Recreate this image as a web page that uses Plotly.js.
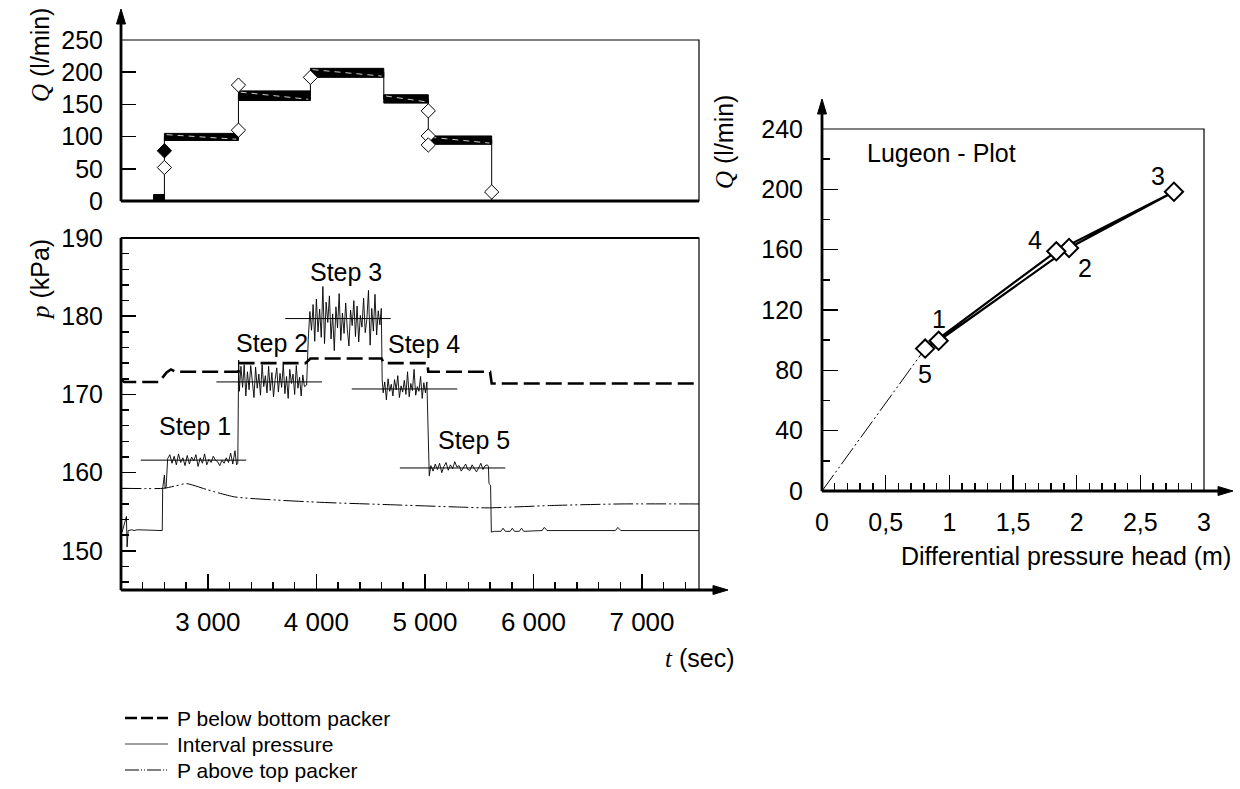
<!DOCTYPE html>
<html><head><meta charset="utf-8">
<script src="https://cdn.plot.ly/plotly-3.0.1.min.js"></script>
<style>html,body{margin:0;padding:0;background:#fff}#chart{width:1240px;height:789px}</style>
</head><body><div id="chart"></div>
<script>
// ================= DATA =================
// Top panel: flow rate Q (l/min) steps
const qStepStart = [2500, 2600, 3282, 3945, 4621, 5031];
const qStepEnd   = [2600, 3282, 3945, 4621, 5031, 5615];
const qLow       = [0, 94, 156, 192, 152, 88];
const qHigh      = [10, 105, 171, 206, 165, 101];
const qRiseT = [2600, 2600, null, 3282, 3282, null, 3945, 3945, null, 4621, 4621, null, 5031, 5031, null, 5615, 5615];
const qRiseQ = [0, 100, null, 100, 165, null, 165, 200, null, 200, 158, null, 158, 95, null, 95, 0];
const qOpenT = [2600, 3282, 3282, 3945, 5031, 5031, 5031, 5615];
const qOpenQ = [52, 110, 180, 192, 140, 101, 87, 14];
const qFillT = [2600];
const qFillQ = [78];

// Bottom panel: pressures (kPa) vs time (sec)
const tBelow = [2200, 2230, 2550, 2620, 2660, 2700, 3282, 3292, 3900, 3945, 4600, 4621, 5023, 5031, 5600, 5615, 7525];
const pBelow = [171.9, 171.6, 171.6, 172.8, 173.2, 172.9, 172.9, 174.0, 174.0, 174.6, 174.6, 174.0, 174.0, 172.9, 172.9, 171.4, 171.4];

const tAbove = [2200, 2593, 2700, 2804, 3000, 3248, 3628, 4051, 4685, 5319, 5572, 6164, 6798, 7525];
const pAbove = [158.0, 158.0, 158.3, 158.6, 157.8, 156.9, 156.5, 156.2, 155.9, 155.6, 155.5, 155.8, 156.0, 156.0];

const tPre = [2210, 2250, 2256, 2266, 2300, 2320, 2350, 2580, 2584, 2600, 2606, 2616];
const pPre = [152.4, 154.4, 150.5, 152.6, 152.7, 152.6, 152.7, 152.6, 158.0, 159.7, 158.0, 158.2];
const tStep1 = [2630,2650,2670,2690,2710,2730,2750,2770,2790,2810,2830,2850,2870,2890,2910,2930,2950,2970,2990,3010,3030,3050,3070,3090,3110,3130,3150,3170,3190,3210,3230,3250,3265];
const pStep1 = [161.8,162.3,161.2,162.1,161.0,162.4,161.3,161.9,160.9,162.2,161.1,162.0,161.5,162.3,160.8,161.9,161.2,162.4,161.0,161.7,161.3,162.1,161.6,161.4,160.9,161.6,161.2,161.9,161.3,162.5,161.1,162.8,161.0];
const tStep2 = [3276,3284,3290,3305,3320,3335,3350,3365,3380,3395,3410,3425,3440,3455,3470,3485,3500,3515,3530,3545,3560,3575,3590,3605,3620,3635,3650,3665,3680,3695,3710,3725,3740,3755,3770,3785,3800,3815,3830,3845,3860,3875,3890];
const pStep2 = [161.2,174.4,170.4,173.6,170.9,173.8,169.8,172.9,170.6,173.7,171.2,169.6,173.5,170.8,172.6,169.9,173.8,171.0,172.4,170.2,173.6,170.5,172.8,169.7,171.9,173.4,170.3,172.7,170.9,173.9,170.1,172.3,169.5,173.2,171.4,172.6,170.0,173.7,170.8,172.2,169.8,172.5,171.0];
const tStep3 = [3910,3925,3940,3955,3970,3985,4000,4015,4030,4045,4060,4075,4090,4105,4120,4135,4150,4165,4180,4195,4210,4225,4240,4255,4270,4285,4300,4315,4330,4345,4360,4375,4390,4405,4420,4435,4450,4465,4480,4495,4510,4525,4540,4555,4570,4585,4598];
const pStep3 = [171.2,177.0,180.6,178.2,181.5,176.8,182.2,178.0,180.9,177.3,183.8,176.5,181.8,179.2,182.6,177.1,180.3,175.6,181.2,178.5,182.9,176.9,180.4,177.8,181.7,178.3,176.2,180.8,178.8,182.0,177.4,181.3,176.7,180.1,178.6,182.3,177.9,179.6,183.3,176.3,181.0,178.1,182.8,177.6,180.7,178.9,181.0];
const tStep4 = [4606,4615,4630,4645,4660,4675,4690,4705,4720,4735,4750,4765,4780,4795,4810,4825,4840,4855,4870,4885,4900,4915,4930,4945,4960,4975,4990,5005,5018];
const pStep4 = [172.0,170.2,171.6,169.3,172.0,170.4,171.3,169.8,171.9,170.6,172.4,169.6,171.1,170.3,171.8,170.0,172.9,169.7,171.4,170.5,173.2,169.9,171.0,170.4,172.3,169.5,171.5,170.2,171.6];
const tStep5 = [5023,5030,5040,5055,5075,5095,5115,5135,5155,5175,5195,5215,5235,5255,5275,5295,5315,5335,5355,5375,5395,5415,5435,5455,5475,5495,5515,5535,5555,5575,5585];
const pStep5 = [168.8,163.5,159.6,160.9,160.2,161.1,160.4,161.2,160.0,160.8,161.3,160.3,161.0,160.5,161.4,160.7,160.9,160.2,160.6,161.1,160.4,160.3,161.0,160.5,160.1,160.6,161.2,160.4,160.9,161.0,160.8];
const tPost = [5590, 5605, 5612, 5640, 5700, 5720, 5740, 5785, 5805, 5825, 5870, 5890, 5910, 6080, 6100, 6125, 6755, 6777, 6805, 7525];
const pPost = [158.6, 158.4, 152.4, 152.5, 152.5, 152.9, 152.5, 152.5, 152.9, 152.5, 152.5, 152.9, 152.5, 152.6, 153.0, 152.6, 152.6, 153.0, 152.6, 152.6];

const stepMeanStart = [2382, 3079, 3713, 4326, 4769];
const stepMeanEnd   = [3354, 4051, 4685, 5298, 5741];
const stepMeanP     = [161.6, 171.6, 179.7, 170.7, 160.6];
const stepLabels = ['Step 1', 'Step 2', 'Step 3', 'Step 4', 'Step 5'];
const stepLabelT = [2880, 3590, 4270, 4990, 5450];
const stepLabelP = [166.0, 176.6, 185.6, 176.4, 164.2];

// Right panel: Lugeon plot
const lugH = [0.916, 1.94, 2.764, 1.84, 0.81];
const lugQ = [99.6, 161.1, 198.4, 158.9, 94.4];
const lugLabels = ['1', '2', '3', '4', '5'];
const lugLabelDx = [0, 16, -16, -21, 0];
const lugLabelDy = [22, -20, 16, 11, -25];

// Legend texts
const legendNames = ['P below bottom packer', 'Interval pressure', 'P above top packer'];

// ================= BUILD =================
const FONT = 'Liberation Sans, Arial, sans-serif';
const W = 1240, H = 789;
const px = v => v / W, py = v => 1 - v / H;
const dashDotDot = '20px,3px,2px,3px,2px,3px';

const traces = [];
// Q bands
for (let i = 0; i < qStepStart.length; i++) {
  traces.push({x: [qStepStart[i], qStepEnd[i], qStepEnd[i], qStepStart[i], qStepStart[i]],
               y: [qHigh[i], qHigh[i], qLow[i], qLow[i], qHigh[i]],
               xaxis: 'x', yaxis: 'y', mode: 'lines', fill: 'toself', fillcolor: '#000',
               line: {color: '#000', width: 1}, hoverinfo: 'skip'});
}
// faint white line inside each band
{
  const xs = [], ys = [];
  for (let i = 1; i < qStepStart.length; i++) {
    xs.push(qStepStart[i] + 20, qStepEnd[i] - 20, null);
    ys.push(qHigh[i] - 2, qLow[i] + 2, null);
  }
  traces.push({x: xs, y: ys, xaxis: 'x', yaxis: 'y', mode: 'lines',
               line: {color: '#fff', width: 0.8, dash: '6px,5px'}, hoverinfo: 'skip'});
}
traces.push({x: qRiseT, y: qRiseQ, xaxis: 'x', yaxis: 'y', mode: 'lines', line: {color: '#000', width: 1}});
traces.push({x: qOpenT, y: qOpenQ, xaxis: 'x', yaxis: 'y', mode: 'markers',
             marker: {symbol: 'diamond', size: 11, color: '#fff', line: {color: '#000', width: 1}}});
traces.push({x: qFillT, y: qFillQ, xaxis: 'x', yaxis: 'y', mode: 'markers',
             marker: {symbol: 'diamond', size: 11, color: '#000', line: {color: '#000', width: 1}}});

// Pressure panel
const tInt = [].concat(tPre, tStep1, tStep2, tStep3, tStep4, tStep5, tPost);
const pInt = [].concat(pPre, pStep1, pStep2, pStep3, pStep4, pStep5, pPost);
traces.push({x: tAbove, y: pAbove, xaxis: 'x2', yaxis: 'y2', mode: 'lines', name: legendNames[2],
             line: {color: '#000', width: 1, dash: dashDotDot, shape: 'spline', smoothing: 0.6}});
traces.push({x: tInt, y: pInt, xaxis: 'x2', yaxis: 'y2', mode: 'lines', name: legendNames[1],
             line: {color: '#000', width: 0.9}});
{
  const xs = [], ys = [];
  for (let i = 0; i < stepMeanStart.length; i++) {
    xs.push(stepMeanStart[i], stepMeanEnd[i], null);
    ys.push(stepMeanP[i], stepMeanP[i], null);
  }
  traces.push({x: xs, y: ys, xaxis: 'x2', yaxis: 'y2', mode: 'lines', line: {color: '#000', width: 1}});
}
traces.push({x: tBelow, y: pBelow, xaxis: 'x2', yaxis: 'y2', mode: 'lines', name: legendNames[0],
             line: {color: '#000', width: 2.6, dash: '16px,6px'}});

// Lugeon panel
traces.push({x: [0, lugH[4]], y: [0, lugQ[4]], xaxis: 'x3', yaxis: 'y3', mode: 'lines',
             line: {color: '#000', width: 1, dash: dashDotDot}});
traces.push({x: lugH, y: lugQ, xaxis: 'x3', yaxis: 'y3', mode: 'lines+markers',
             line: {color: '#000', width: 2.2},
             marker: {symbol: 'diamond', size: 14, color: '#fff', line: {color: '#000', width: 2}}});

const tickFont = {family: FONT, size: 25, color: '#000'};
const baseAxis = {showgrid: false, zeroline: false, showline: false, tickfont: tickFont,
                  ticks: 'inside', tickcolor: '#000', tickwidth: 1.5, fixedrange: true};

const L = [px(121), px(699)];
const layout = {
  width: W, height: H, margin: {l: 0, r: 0, t: 0, b: 0},
  paper_bgcolor: '#fff', plot_bgcolor: 'rgba(0,0,0,0)', showlegend: false,
  separators: ', ', font: {family: FONT, color: '#000'},
  xaxis: Object.assign({}, baseAxis, {domain: L, range: [2200, 7525], anchor: 'y', showticklabels: false, ticks: ''}),
  yaxis: Object.assign({}, baseAxis, {domain: [py(201), py(40)], range: [0, 250], dtick: 50, tick0: 0,
                       ticklen: 15, anchor: 'x', ticklabelstandoff: 17}),
  xaxis2: Object.assign({}, baseAxis, {domain: L, range: [2200, 7525], anchor: 'y2', dtick: 1000, tick0: 0,
                        ticklen: 16, separatethousands: true, ticklabelstandoff: 14,
                        tickfont: {family: FONT, size: 26, color: '#000'},
                        minor: {dtick: 200, tick0: 0, ticklen: 8, ticks: 'inside', tickcolor: '#000', tickwidth: 1.5}}),
  yaxis2: Object.assign({}, baseAxis, {domain: [py(590), py(238)], range: [145, 190], dtick: 10, tick0: 0,
                        ticklen: 15, anchor: 'x2', ticklabelstandoff: 17,
                        minor: {dtick: 2, tick0: 0, ticklen: 8, ticks: 'inside', tickcolor: '#000', tickwidth: 1.5}}),
  xaxis3: Object.assign({}, baseAxis, {domain: [px(822), px(1204)], range: [0, 3], dtick: 0.5, tick0: 0,
                        ticklen: 16, anchor: 'y3', ticklabelstandoff: 14,
                        minor: {dtick: 0.1, tick0: 0, ticklen: 8, ticks: 'inside', tickcolor: '#000', tickwidth: 1.5}}),
  yaxis3: Object.assign({}, baseAxis, {domain: [py(491), py(129)], range: [0, 240], dtick: 40, tick0: 0,
                        ticklen: 16, anchor: 'x3', ticklabelstandoff: 18,
                        minor: {dtick: 20, tick0: 0, ticklen: 8, ticks: 'inside', tickcolor: '#000', tickwidth: 1.5}}),
  shapes: [], annotations: []
};

function line(x0, y0, x1, y1, w, dash) {
  return {type: 'line', xref: 'paper', yref: 'paper', x0: px(x0), y0: py(y0), x1: px(x1), y1: py(y1),
          line: {color: '#000', width: w, dash: dash || 'solid'}};
}
function rect(x0, y0, x1, y1, w) {
  return {type: 'rect', xref: 'paper', yref: 'paper', x0: px(x0), y0: py(y0), x1: px(x1), y1: py(y1),
          line: {color: '#000', width: w}, fillcolor: 'rgba(0,0,0,0)'};
}
function tri(pts) {
  const d = 'M' + pts.map(p => px(p[0]) + ',' + py(p[1])).join('L') + 'Z';
  return {type: 'path', xref: 'paper', yref: 'paper', path: d, fillcolor: '#000', line: {color: '#000', width: 1}};
}
const S = layout.shapes;
// top panel frame
S.push(rect(121, 40, 699, 201, 1.2));
S.push(line(121, 201, 699, 201, 2.8));
S.push(line(121, 201, 121, 20, 2.8));
S.push(tri([[121, 9], [116.5, 24], [125.5, 24]]));
// pressure panel frame
S.push(rect(121, 238, 699, 590, 1.2));
S.push(line(121, 238, 699, 238, 1.8));
S.push(line(121, 238, 121, 590, 2.8));
S.push(line(121, 590, 716, 590, 2.8));
S.push(tri([[728, 590], [713, 585.5], [713, 594.5]]));
// Lugeon frame
S.push(rect(822, 129, 1204, 491, 1.2));
S.push(line(822, 491, 822, 110, 2.8));
S.push(line(822, 491, 1222, 491, 2.8));
S.push(tri([[822, 99], [817.5, 114], [826.5, 114]]));
S.push(tri([[1233, 491], [1218, 486.5], [1218, 495.5]]));
// legend samples
const legendRowY = [718, 744, 770];
S.push(line(125, legendRowY[0], 168, legendRowY[0], 2.6, '12px,4px'));
S.push({type: 'line', xref: 'paper', yref: 'paper', x0: px(125), y0: py(legendRowY[1]), x1: px(168), y1: py(legendRowY[1]),
        line: {color: '#808080', width: 1.5}});
S.push(line(125, legendRowY[2], 168, legendRowY[2], 1, '14px,2px,1px,2px,1px,2px'));

const A = layout.annotations;
const titleFont = {family: FONT, size: 25, color: '#000'};
const it = s => '<span style="font-family:Liberation Serif,Times New Roman,serif"><i>' + s + '</i></span>';
function pann(text, x, y, opts) {
  return Object.assign({text: text, xref: 'paper', yref: 'paper', x: px(x), y: py(y), showarrow: false,
                        font: titleFont, xanchor: 'center', yanchor: 'middle'}, opts || {});
}
A.push(pann(it('Q') + ' (l/min)', 40, 55, {textangle: -90}));
A.push(pann(it('p') + ' (kPa)', 40, 280, {textangle: -90}));
A.push(pann(it('t') + ' (sec)', 736, 658, {xanchor: 'right'}));
A.push(pann(it('Q') + ' (l/min)', 724, 142, {textangle: -90}));
A.push(pann('Differential pressure head (m)', 1233, 556, {xanchor: 'right'}));
A.push(pann('Lugeon - Plot', 865, 153, {xanchor: 'left'}));
for (let i = 0; i < legendNames.length; i++) {
  A.push(pann(legendNames[i], 176, legendRowY[i],
              {xanchor: 'left', borderpad: 0, font: {family: FONT, size: 21, color: '#000'}}));
}
for (let i = 0; i < stepLabels.length; i++) {
  A.push({text: stepLabels[i], xref: 'x2', yref: 'y2', x: stepLabelT[i], y: stepLabelP[i], showarrow: false,
          font: titleFont, xanchor: 'center', yanchor: 'middle'});
}
for (let i = 0; i < lugLabels.length; i++) {
  A.push({text: lugLabels[i], xref: 'x3', yref: 'y3', x: lugH[i], y: lugQ[i], showarrow: false,
          xshift: lugLabelDx[i], yshift: lugLabelDy[i], font: titleFont, xanchor: 'center', yanchor: 'middle'});
}

Plotly.newPlot('chart', traces, layout, {staticPlot: true, displayModeBar: false});
</script></body></html>
